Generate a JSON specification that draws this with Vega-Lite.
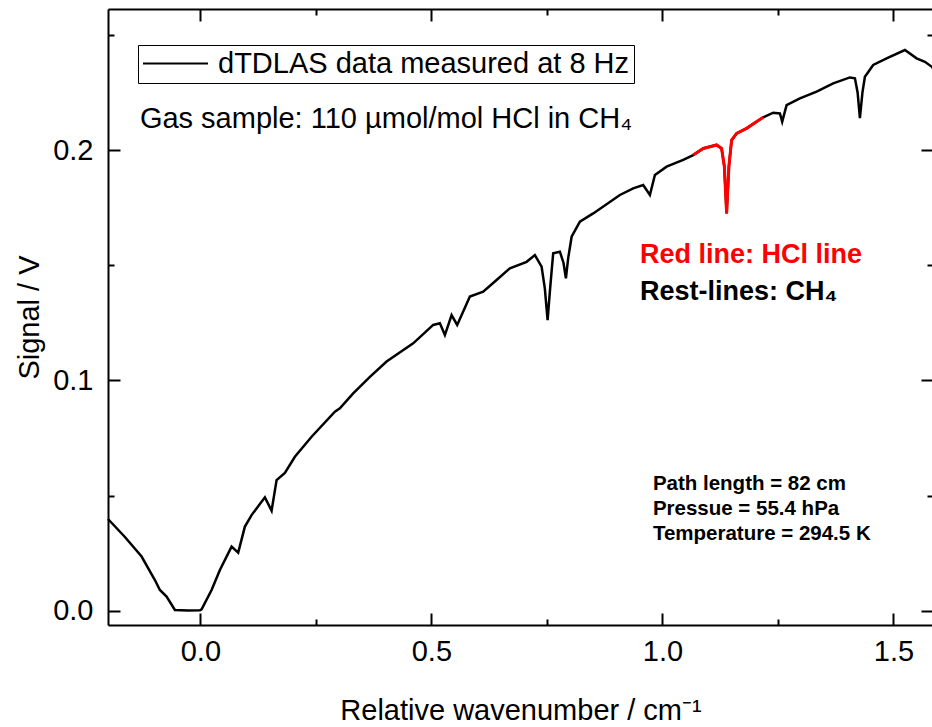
{
  "$schema": "https://vega.github.io/schema/vega-lite/v6.json",
  "width": 825,
  "height": 616,
  "autosize": {"type": "none"},
  "padding": {"left": 108, "top": 9, "right": 0, "bottom": 102},
  "background": "white",
  "config": {
    "view": {"stroke": null},
    "font": "Liberation Sans",
    "axis": {
      "grid": false,
      "domainColor": "black",
      "domainWidth": 2,
      "tickColor": "black",
      "tickWidth": 2,
      "labelColor": "black",
      "titleColor": "black",
      "labelFont": "Liberation Sans",
      "titleFont": "Liberation Sans",
      "labelFontSize": 29,
      "titleFontSize": 29,
      "titleFontWeight": "normal"
    }
  },
  "data": {
    "values": [
      {"x": -0.2, "y": 0.0399}, {"x": -0.1634, "y": 0.0321}, {"x": -0.1273, "y": 0.0236},
      {"x": -0.0985, "y": 0.0134}, {"x": -0.0877, "y": 0.0091}, {"x": -0.0732, "y": 0.0062},
      {"x": -0.0552, "y": 0.0004}, {"x": -0.027, "y": 0.0002}, {"x": -0.001, "y": 0.0003},
      {"x": 0.0026, "y": 0.0007}, {"x": 0.0242, "y": 0.0091}, {"x": 0.0422, "y": 0.0178},
      {"x": 0.0675, "y": 0.0279}, {"x": 0.0818, "y": 0.0253}, {"x": 0.0963, "y": 0.0366},
      {"x": 0.1108, "y": 0.0416}, {"x": 0.1396, "y": 0.0493}, {"x": 0.1541, "y": 0.0435},
      {"x": 0.1649, "y": 0.0568}, {"x": 0.1829, "y": 0.0599}, {"x": 0.2045, "y": 0.0669},
      {"x": 0.2407, "y": 0.0756}, {"x": 0.2911, "y": 0.0865}, {"x": 0.3019, "y": 0.0879},
      {"x": 0.3307, "y": 0.0944}, {"x": 0.3669, "y": 0.1016}, {"x": 0.403, "y": 0.1082},
      {"x": 0.4606, "y": 0.1161}, {"x": 0.5039, "y": 0.1241}, {"x": 0.5184, "y": 0.1248},
      {"x": 0.5292, "y": 0.1197}, {"x": 0.5437, "y": 0.1284}, {"x": 0.5558, "y": 0.1241},
      {"x": 0.5833, "y": 0.1364}, {"x": 0.6121, "y": 0.1385}, {"x": 0.6411, "y": 0.1436},
      {"x": 0.6699, "y": 0.1487}, {"x": 0.7061, "y": 0.1515}, {"x": 0.724, "y": 0.1544},
      {"x": 0.7385, "y": 0.1494}, {"x": 0.7455, "y": 0.14}, {"x": 0.7515, "y": 0.1262},
      {"x": 0.757, "y": 0.14}, {"x": 0.7636, "y": 0.1552}, {"x": 0.7781, "y": 0.1559},
      {"x": 0.786, "y": 0.151}, {"x": 0.7911, "y": 0.1443}, {"x": 0.796, "y": 0.153},
      {"x": 0.8035, "y": 0.1624}, {"x": 0.8214, "y": 0.1689}, {"x": 0.8502, "y": 0.1725},
      {"x": 0.908, "y": 0.1805}, {"x": 0.9368, "y": 0.1834}, {"x": 0.9584, "y": 0.1848},
      {"x": 0.9729, "y": 0.1805}, {"x": 0.9838, "y": 0.1892}, {"x": 1.0091, "y": 0.1928},
      {"x": 1.045, "y": 0.1957}, {"x": 1.0667, "y": 0.1978}, {"x": 1.0883, "y": 0.2007},
      {"x": 1.1173, "y": 0.2022}, {"x": 1.1281, "y": 0.2007}, {"x": 1.134, "y": 0.193},
      {"x": 1.139, "y": 0.1725}, {"x": 1.144, "y": 0.193}, {"x": 1.1498, "y": 0.2043},
      {"x": 1.1606, "y": 0.2072}, {"x": 1.1822, "y": 0.2094}, {"x": 1.2182, "y": 0.2142},
      {"x": 1.2398, "y": 0.2162}, {"x": 1.2543, "y": 0.2159}, {"x": 1.2593, "y": 0.2123},
      {"x": 1.2688, "y": 0.2195}, {"x": 1.2976, "y": 0.2224}, {"x": 1.3338, "y": 0.2253},
      {"x": 1.3697, "y": 0.2289}, {"x": 1.4058, "y": 0.2315}, {"x": 1.4167, "y": 0.2311},
      {"x": 1.4225, "y": 0.225}, {"x": 1.4275, "y": 0.2138}, {"x": 1.433, "y": 0.225},
      {"x": 1.4383, "y": 0.2318}, {"x": 1.4563, "y": 0.2369}, {"x": 1.4853, "y": 0.2398},
      {"x": 1.5249, "y": 0.2434}, {"x": 1.5502, "y": 0.2398}, {"x": 1.5682, "y": 0.2383},
      {"x": 1.5833, "y": 0.2361}, {"x": 1.5857, "y": 0.2355}
    ]
  },
  "layer": [
    {
      "mark": {"type": "line", "strokeWidth": 2.5},
      "encoding": {
        "x": {
          "field": "x", "type": "quantitative",
          "scale": {"domain": [-0.2, 1.5857], "nice": false, "zero": false},
          "axis": {"orient": "bottom", "values": [0, 0.5, 1, 1.5], "format": ".1f", "tickSize": -12, "labelPadding": 24, "title": "Relative wavenumber / cm⁻¹", "titlePadding": 30}
        },
        "y": {
          "field": "y", "type": "quantitative",
          "scale": {"domain": [-0.0061, 0.2612], "nice": false, "zero": false},
          "axis": {"orient": "left", "values": [0, 0.1, 0.2], "format": ".1f", "tickSize": -12, "labelPadding": 27, "title": "Signal / V", "titlePadding": 8}
        },
        "color": {
          "datum": "dTDLAS data measured at 8 Hz",
          "scale": {"range": ["black"]},
          "legend": {
            "orient": "none", "legendX": 30, "legendY": 36, "title": null,
            "strokeColor": "black", "fillColor": "white", "padding": 4, "clipHeight": 29,
            "symbolType": "stroke", "symbolSize": 4225, "symbolStrokeWidth": 2,
            "labelFontSize": 29, "labelFont": "Liberation Sans", "labelColor": "black", "labelOffset": 9, "labelLimit": 800
          }
        }
      }
    },
    {
      "transform": [{"filter": {"field": "x", "range": [1.066, 1.219]}}],
      "mark": {"type": "line", "strokeWidth": 3, "color": "#ff0000"},
      "encoding": {
        "x": {"field": "x", "type": "quantitative",
          "axis": {"orient": "bottom", "values": [0.25, 0.75, 1.25], "tickSize": -6, "labels": false, "domain": false, "title": null}},
        "y": {"field": "y", "type": "quantitative",
          "axis": {"orient": "left", "values": [0.05, 0.15, 0.25], "tickSize": -6, "labels": false, "domain": false, "title": null}}
      }
    },
    {
      "data": {"values": [{}]},
      "mark": {"type": "text", "align": "left", "baseline": "alphabetic", "fontSize": 29, "font": "Liberation Sans", "color": "black"},
      "encoding": {
        "x": {"datum": -0.131, "type": "quantitative",
          "axis": {"orient": "top", "values": [0, 0.5, 1, 1.5], "tickSize": -12, "labels": false, "title": null}},
        "y": {"datum": 0.2095, "type": "quantitative",
          "axis": {"orient": "right", "values": [0, 0.1, 0.2], "tickSize": -12, "labels": false, "title": null}},
        "text": {"value": "Gas sample: 110 µmol/mol HCl in CH₄"}
      }
    },
    {
      "data": {"values": [{}]},
      "mark": {"type": "text", "align": "left", "baseline": "alphabetic", "fontSize": 27, "fontWeight": "bold", "font": "Liberation Sans", "color": "#ff0000"},
      "encoding": {
        "x": {"datum": 0.9513, "type": "quantitative",
          "axis": {"orient": "top", "values": [0.25, 0.75, 1.25], "tickSize": -6, "labels": false, "domain": false, "title": null}},
        "y": {"datum": 0.151, "type": "quantitative",
          "axis": {"orient": "right", "values": [0.05, 0.15, 0.25], "tickSize": -6, "labels": false, "domain": false, "title": null}},
        "text": {"value": "Red line: HCl line"}
      }
    },
    {
      "data": {"values": [{}]},
      "mark": {"type": "text", "align": "left", "baseline": "alphabetic", "fontSize": 27, "fontWeight": "bold", "font": "Liberation Sans", "color": "black"},
      "encoding": {
        "x": {"datum": 0.9513, "type": "quantitative", "axis": null},
        "y": {"datum": 0.1349, "type": "quantitative", "axis": null},
        "text": {"value": "Rest-lines: CH₄"}
      }
    },
    {
      "data": {"values": [{}]},
      "mark": {"type": "text", "align": "left", "baseline": "alphabetic", "fontSize": 20.5, "fontWeight": "bold", "font": "Liberation Sans", "color": "black", "lineHeight": 25},
      "encoding": {
        "x": {"datum": 0.9794, "type": "quantitative", "axis": null},
        "y": {"datum": 0.0525, "type": "quantitative", "axis": null},
        "text": {"value": ["Path length = 82 cm", "Pressue = 55.4 hPa", "Temperature = 294.5 K"]}
      }
    }
  ],
  "resolve": {"axis": {"x": "independent", "y": "independent"}}
}
